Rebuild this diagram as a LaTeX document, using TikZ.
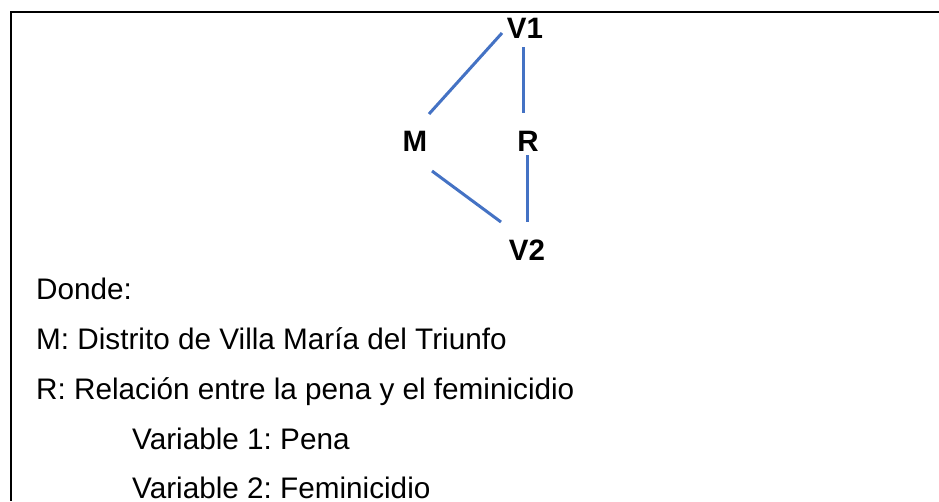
\documentclass[tikz,border=0pt]{standalone}
\usepackage{fontspec}
\setmainfont{Liberation Sans}
\usetikzlibrary{calc}
\definecolor{linkblue}{HTML}{4472C4}
\frenchspacing
\begin{document}
\begin{tikzpicture}[x=1pt,y=1pt,
  lbl/.style={font=\fontsize{29.5}{35}\selectfont\bfseries, inner sep=0pt, anchor=center},
  txt/.style={font=\fontsize{29.7}{35}\selectfont, inner sep=0pt, anchor=base west},
  link/.style={draw=linkblue, line width=3pt},
  frame/.style={draw=black, line width=2pt}]
\useasboundingbox[fill=white] (0,0) rectangle (939,-501);
\draw[frame] (939,-12) -- (11,-12) -- (11,-501);
% diagram
\node[lbl] (V1) at (525,-28) {V1};
\node[lbl] (M) at (415,-141) {M};
\node[lbl] (R) at (528,-141) {R};
\node[lbl] (V2) at (527,-250) {V2};
\draw[link] ($(M)+(14,27)$) -- ($(V1)+(-23,-5)$);
\draw[link] ($(V1)+(-2,-19)$) -- ($(R)+(-5,28)$);
\draw[link] ($(M)+(17,-30)$) -- ($(V2)+(-26,28)$);
\draw[link] ($(R)+(-1,-14)$) -- ($(V2)+(0,28)$);
% legend
\node[txt] (t1) at (36,-299) {Donde:};
\node[txt] (t2) at (36,-349) {M: Distrito de Villa María del Triunfo};
\node[txt] (t3) at (36,-399) {R: Relación entre la pena y el feminicidio};
\node[txt] (t4) at (132,-449) {Variable 1: Pena};
\node[txt] (t5) at (132,-498) {Variable 2: Feminicidio};
\end{tikzpicture}
\end{document}
